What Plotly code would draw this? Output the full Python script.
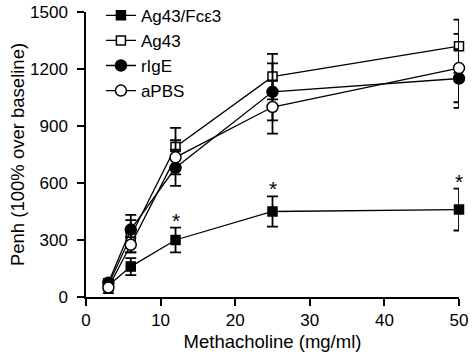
import plotly.graph_objects as go

doses = [3, 6, 12, 25, 50]
series_names = ["Ag43/Fcε3", "Ag43", "rIgE", "aPBS"]
fce3_vals = [60, 160, 300, 450, 460]
fce3_err = [25, 45, 65, 80, 110]
ag43_vals = [65, 320, 790, 1160, 1320]
ag43_err = [20, 85, 100, 120, 140]
rige_vals = [75, 355, 680, 1080, 1150]
rige_err = [20, 77, 95, 150, 155]
apbs_vals = [50, 275, 735, 1000, 1205]
apbs_err = [30, 40, 90, 140, 180]
star_doses = [12, 25, 50]
y_ticks = [0, 300, 600, 900, 1200, 1500]
x_ticks = [0, 10, 20, 30, 40, 50]

FONT = "Liberation Sans, Arial, Helvetica, sans-serif"
TICK_FS = 17
TITLE_FS = 18.5
LEG_FS = 17

styles = [
    (fce3_vals, fce3_err, "square", "black", 9),
    (ag43_vals, ag43_err, "square", "white", 9),
    (rige_vals, rige_err, "circle", "black", 11),
    (apbs_vals, apbs_err, "circle", "white", 11),
]

fig = go.Figure()
for name, (vals, err, sym, fill, size) in zip(series_names, styles):
    fig.add_trace(go.Scatter(
        x=doses, y=vals, name=name, mode="lines+markers",
        line=dict(color="black", width=1.3),
        marker=dict(symbol=sym, size=size, color=fill,
                    line=dict(color="black", width=1.5)),
        error_y=dict(type="data", array=err, visible=True,
                     color="black", thickness=1.8, width=5.5),
        cliponaxis=False,
    ))

for d in star_doses:
    i = doses.index(d)
    fig.add_annotation(x=d, y=fce3_vals[i] + fce3_err[i], text="*",
                       showarrow=False, yanchor="bottom", yshift=-6,
                       font=dict(family=FONT, size=21, color="black"))

axis_common = dict(showline=True, linecolor="black", linewidth=1.5,
                   ticks="outside", ticklen=7, tickwidth=1.5, tickcolor="black",
                   showgrid=False, zeroline=False, automargin=False,
                   ticklabeloverflow="allow",
                   tickfont=dict(family=FONT, size=TICK_FS, color="black"))

fig.update_layout(
    width=472, height=355,
    margin=dict(l=86, r=13, t=12, b=58, autoexpand=False),
    paper_bgcolor="white", plot_bgcolor="white",
    showlegend=True,
    legend=dict(x=0.04, y=1.05, xanchor="left", yanchor="top",
                bgcolor="rgba(0,0,0,0)", tracegroupgap=0,
                font=dict(family=FONT, size=LEG_FS, color="black"),
                itemwidth=30),
    xaxis=dict(range=[0, 50], tickvals=x_ticks, ticklabelstandoff=0,
               title=dict(text="Methacholine (mg/ml)", standoff=6,
                          font=dict(family=FONT, size=TITLE_FS, color="black")),
               **axis_common),
    yaxis=dict(range=[0, 1500], tickvals=y_ticks, ticklabelstandoff=6,
               title=dict(text="Penh (100% over baseline)", standoff=1,
                          font=dict(family=FONT, size=TITLE_FS, color="black")),
               **axis_common),
)

# remove the page's default 8px body margin so the figure fills the window
fig.write_html("out.html",
               config={"displayModeBar": False},
               post_script="document.body.style.margin='0';"
                           "document.body.style.overflow='hidden';")
